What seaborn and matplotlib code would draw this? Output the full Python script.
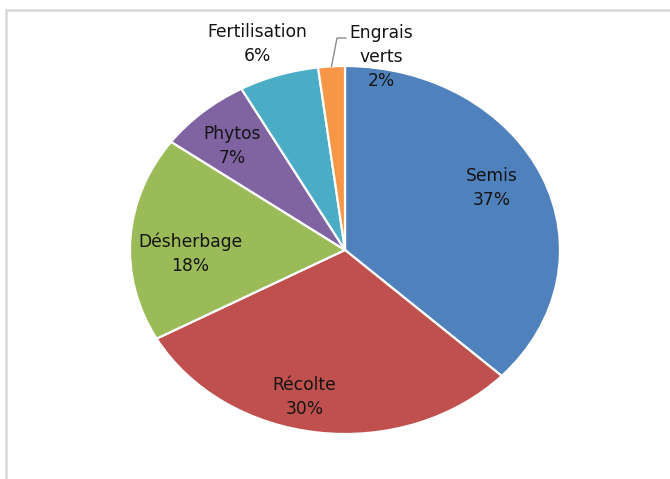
import numpy as np
import matplotlib
matplotlib.use("Agg")
import matplotlib.pyplot as plt
from matplotlib.lines import Line2D
from matplotlib.patches import Rectangle
import seaborn as sns

# Share of each field operation
categories = ["Semis", "Récolte", "Désherbage", "Phytos", "Fertilisation", "Engrais\nverts"]
shares = [37, 30, 18, 7, 6, 2]
colors = ["#4F81BD", "#C0504D", "#9BBB59", "#8064A2", "#4BACC6", "#F79646"]

sns.set_theme(style="white")
plt.rcParams["font.family"] = ["DejaVu Sans"]

W, H = 670, 479
fig = plt.figure(figsize=(W / 100, H / 100), dpi=100)
ax = fig.add_axes([0, 0, 1, 1])

palette = sns.color_palette(colors)
wedges, _ = ax.pie(
    shares,
    colors=palette,
    startangle=90,
    counterclock=False,
    radius=1.0,
    wedgeprops=dict(edgecolor="white", linewidth=1.6),
)

# pie centre and radii in pixels (the pie is drawn as an ellipse)
cx, cy, rx, ry = 345, 250, 215, 184
ax.set_aspect("auto")
ax.set_xlim(-cx / rx, (W - cx) / rx)
ax.set_ylim(-(H - cy) / ry, cy / ry)
ax.axis("off")

# label anchor: (radius, angle shift in degrees) relative to wedge middle
label_layout = {
    0: (0.76, 3.0),
    1: (0.82, -6.0),
    2: (0.72, 5.3),
    3: (0.77, 1.5),
    4: (1.19, 2.0),
}
txt_kw = dict(ha="center", va="center", fontsize=12.3, color="#141414", linespacing=1.45)

for i, (w, name, val) in enumerate(zip(wedges, categories, shares)):
    mid = np.deg2rad((w.theta1 + w.theta2) / 2)
    label = f"{name}\n{val}%"
    if i in label_layout:
        r, shift = label_layout[i]
        a = mid + np.deg2rad(shift)
        ax.text(r * np.cos(a), r * np.sin(a), label, **txt_kw)
    else:
        # small slice: label outside with a leader line
        x0, y0 = np.cos(mid), np.sin(mid)
        x1, y1 = (337 - cx) / rx, (cy - 38) / ry
        x2 = (346 - cx) / rx
        ax.add_line(Line2D([x0, x1, x2], [y0, y1, y1], color="#8c8c8c", lw=1.0))
        ax.text((381 - cx) / rx, (cy - 57) / ry, label, **txt_kw)

# light chart-area border
fig.add_artist(Rectangle((6 / W, -0.1), 1.2, (H - 10) / H + 0.1,
                         transform=fig.transFigure, fill=False,
                         edgecolor="#d9d9d9", linewidth=1.8))

fig.savefig("out.png", dpi=100)
